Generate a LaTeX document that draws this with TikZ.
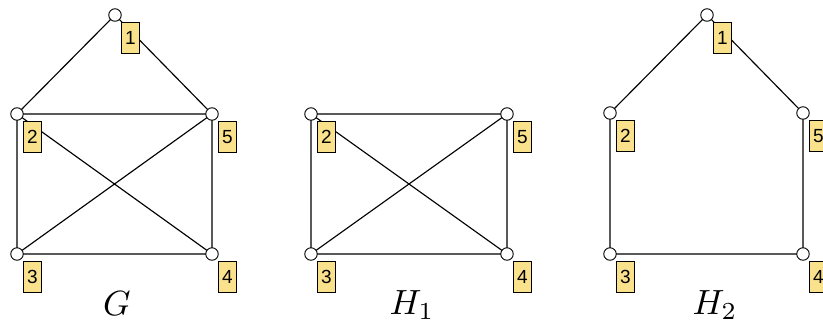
\documentclass[tikz,border=0pt]{standalone}
\usepackage{fontspec}
\newfontfamily\lblfont{Liberation Sans}
\definecolor{lblyellow}{RGB}{250,226,140}
\begin{document}
\begin{tikzpicture}[x=1pt,y=-1pt,
  vtx/.style={circle,draw=black,fill=white,line width=0.9pt,minimum size=12.5pt,inner sep=0pt},
  lbl/.style={draw=black,fill=lblyellow,line width=1pt,minimum width=18pt,minimum height=31pt,inner sep=0pt,anchor=north west,font=\lblfont\fontsize{19}{19}\selectfont},
  edge/.style={draw=black,line width=1.15pt},
  gname/.style={font=\fontsize{10}{12}\selectfont,scale=3.5,inner sep=0pt}]
\useasboundingbox (0,0) rectangle (823,325);
% Graph G
\coordinate (g1) at (115,15);
\coordinate (g2) at (17,114);
\coordinate (g5) at (212,114);
\coordinate (g3) at (17,254);
\coordinate (g4) at (212,254);
\draw[edge] (g1)--(g2) (g1)--(g5) (g2)--(g5) (g2)--(g3) (g5)--(g4) (g3)--(g4) (g2)--(g4) (g3)--(g5);
\node[vtx] (G1) at (g1) {}; \node[vtx] (G2) at (g2) {}; \node[vtx] (G3) at (g3) {};
\node[vtx] (G4) at (g4) {}; \node[vtx] (G5) at (g5) {};
\node[lbl] (LG1) at ([shift={(6,7)}]g1) {1};
\node[lbl] (LG2) at ([shift={(6,7)}]g2) {2};
\node[lbl] (LG3) at ([shift={(6,7)}]g3) {3};
\node[lbl] (LG4) at ([shift={(6,7)}]g4) {4};
\node[lbl] (LG5) at ([shift={(6,7)}]g5) {5};
\node[gname] (nG) at (117,304) {$G$};
% Graph H1
\coordinate (h2) at (311,114);
\coordinate (h5) at (507,114);
\coordinate (h3) at (311,254);
\coordinate (h4) at (507,254);
\draw[edge] (h2)--(h5) (h2)--(h3) (h5)--(h4) (h3)--(h4) (h2)--(h4) (h3)--(h5);
\node[vtx] (H2v) at (h2) {}; \node[vtx] (H3v) at (h3) {};
\node[vtx] (H4v) at (h4) {}; \node[vtx] (H5v) at (h5) {};
\node[lbl] (LH2) at ([shift={(6,7)}]h2) {2};
\node[lbl] (LH3) at ([shift={(6,7)}]h3) {3};
\node[lbl] (LH4) at ([shift={(6,7)}]h4) {4};
\node[lbl] (LH5) at ([shift={(6,7)}]h5) {5};
\node[gname] (nH1) at (412,305) {$H_1$};
% Graph H2
\coordinate (k1) at (707,15);
\coordinate (k2) at (610,113);
\coordinate (k5) at (803,113);
\coordinate (k3) at (610,254);
\coordinate (k4) at (803,254);
\draw[edge] (k1)--(k2) (k1)--(k5) (k2)--(k3) (k5)--(k4) (k3)--(k4);
\node[vtx] (K1) at (k1) {}; \node[vtx] (K2) at (k2) {}; \node[vtx] (K3) at (k3) {};
\node[vtx] (K4) at (k4) {}; \node[vtx] (K5) at (k5) {};
\node[lbl] (LK1) at ([shift={(6,7)}]k1) {1};
\node[lbl] (LK2) at ([shift={(6,7)}]k2) {2};
\node[lbl] (LK3) at ([shift={(6,7)}]k3) {3};
\node[lbl] (LK4) at ([shift={(6,7)}]k4) {4};
\node[lbl] (LK5) at ([shift={(6,7)}]k5) {5};
\node[gname] (nH2) at (715,305) {$H_2$};
\end{tikzpicture}
\end{document}
